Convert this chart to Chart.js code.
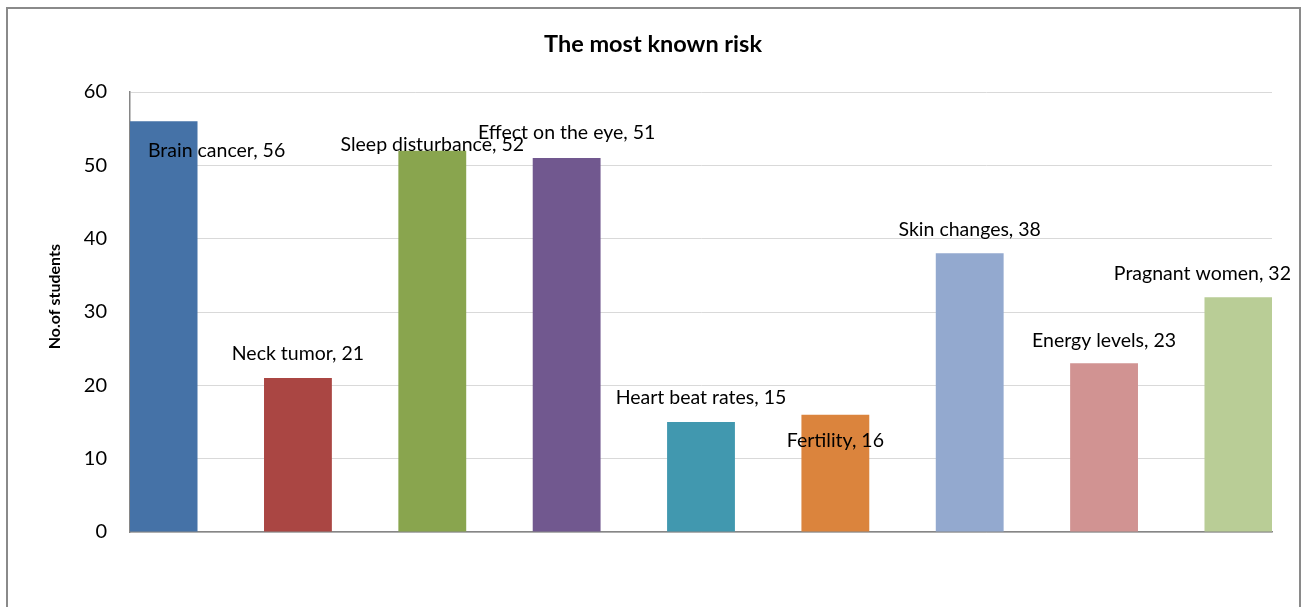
<!DOCTYPE html>
<html>
<head>
<meta charset="utf-8">
<script src="https://cdn.jsdelivr.net/npm/chart.js@4/dist/chart.umd.min.js"></script>
<style>
  html, body { margin: 0; padding: 0; background: #ffffff; }
  #wrap { position: relative; width: 1301px; height: 607px; overflow: hidden; }
  #frame { position: absolute; left: 6px; top: 7px; width: 1295px; height: 720px;
           border: 2px solid #8a8a8a; box-sizing: border-box; }
  #chart { position: absolute; left: 0; top: 0; }
</style>
</head>
<body>
<div id="wrap">
  <div id="frame"></div>
  <canvas id="chart" width="1301" height="607"></canvas>
</div>
<script>
// Risks named by students and how many students named each
const categories = ['Brain cancer', 'Neck tumor', 'Sleep disturbance', 'Effect on the eye',
                    'Heart beat rates', 'Fertility', 'Skin changes', 'Energy levels', 'Pragnant women'];
const students = [56, 21, 52, 51, 15, 16, 38, 23, 32];
const yTicks = [0, 10, 20, 30, 40, 50, 60];
const chartTitle = 'The most known risk';
const yTitle = 'No.of students';

// One fill per bar
const barColors = ['#4572A7', '#AA4643', '#89A54E', '#71588F', '#4198AF',
                   '#DB843D', '#93A9CF', '#D19392', '#B9CD96'];

// Hand-placed label nudges (pixels from the top centre of each bar)
const labelShiftX = [53, 0, 0, 0, 0, 0, 0, 0, -36];
const labelShiftY = [29, -24, -6, -25, -24, 26, -24, -23, -24];

const FONT = 'Lato, "Open Sans", sans-serif';

// Chart title, category labels next to each bar, and the rotated value-axis title
const textLayer = {
  id: 'textLayer',
  afterDatasetsDraw(chart) {
    const ctx = chart.ctx;
    const area = chart.chartArea;
    const meta = chart.getDatasetMeta(0);

    ctx.save();
    ctx.fillStyle = '#000000';
    ctx.textAlign = 'center';
    ctx.textBaseline = 'middle';

    ctx.font = 'bold 23.5px ' + FONT;
    ctx.fillText(chartTitle, 653, 44);

    ctx.font = '19.5px ' + FONT;
    meta.data.forEach((bar, i) => {
      ctx.fillText(categories[i] + ', ' + students[i], bar.x + labelShiftX[i], bar.y + labelShiftY[i]);
    });

    ctx.translate(55, area.top + (area.bottom - area.top) * 0.465);
    ctx.rotate(-Math.PI / 2);
    ctx.font = 'bold 16px ' + FONT;
    ctx.fillText(yTitle, 0, 0);
    ctx.restore();
  }
};

new Chart(document.getElementById('chart'), {
  type: 'bar',
  data: {
    datasets: [{
      label: yTitle,
      data: categories.map((c, i) => ({ x: i, y: students[i] })),
      backgroundColor: barColors,
      borderWidth: 0,
      barPercentage: 0.505,
      categoryPercentage: 1
    }]
  },
  options: {
    responsive: false,
    animation: false,
    layout: { padding: { top: 92, left: 0, right: 29, bottom: 75 } },
    plugins: {
      legend: { display: false },
      tooltip: { enabled: false },
      title: { display: false }
    },
    scales: {
      x: {
        type: 'linear',
        offset: false,
        min: -0.25,
        max: categories.length - 0.75,
        ticks: { display: false },
        grid: { display: false, offset: false },
        border: { display: true, color: '#868686', width: 1.5 },
        afterFit(s) { s.height = 0; }
      },
      y: {
        min: 0,
        max: 60,
        afterBuildTicks(s) { s.ticks = yTicks.map(v => ({ value: v })); },
        ticks: { color: '#000000', font: { family: FONT, size: 20 }, padding: 23 },
        grid: { color: '#d9d9d9', lineWidth: 1, drawTicks: false },
        border: { display: true, color: '#868686', width: 1.5 },
        title: { display: false },
        afterFit(s) { s.width = 130; }
      }
    }
  },
  plugins: [textLayer]
});
</script>
</body>
</html>
